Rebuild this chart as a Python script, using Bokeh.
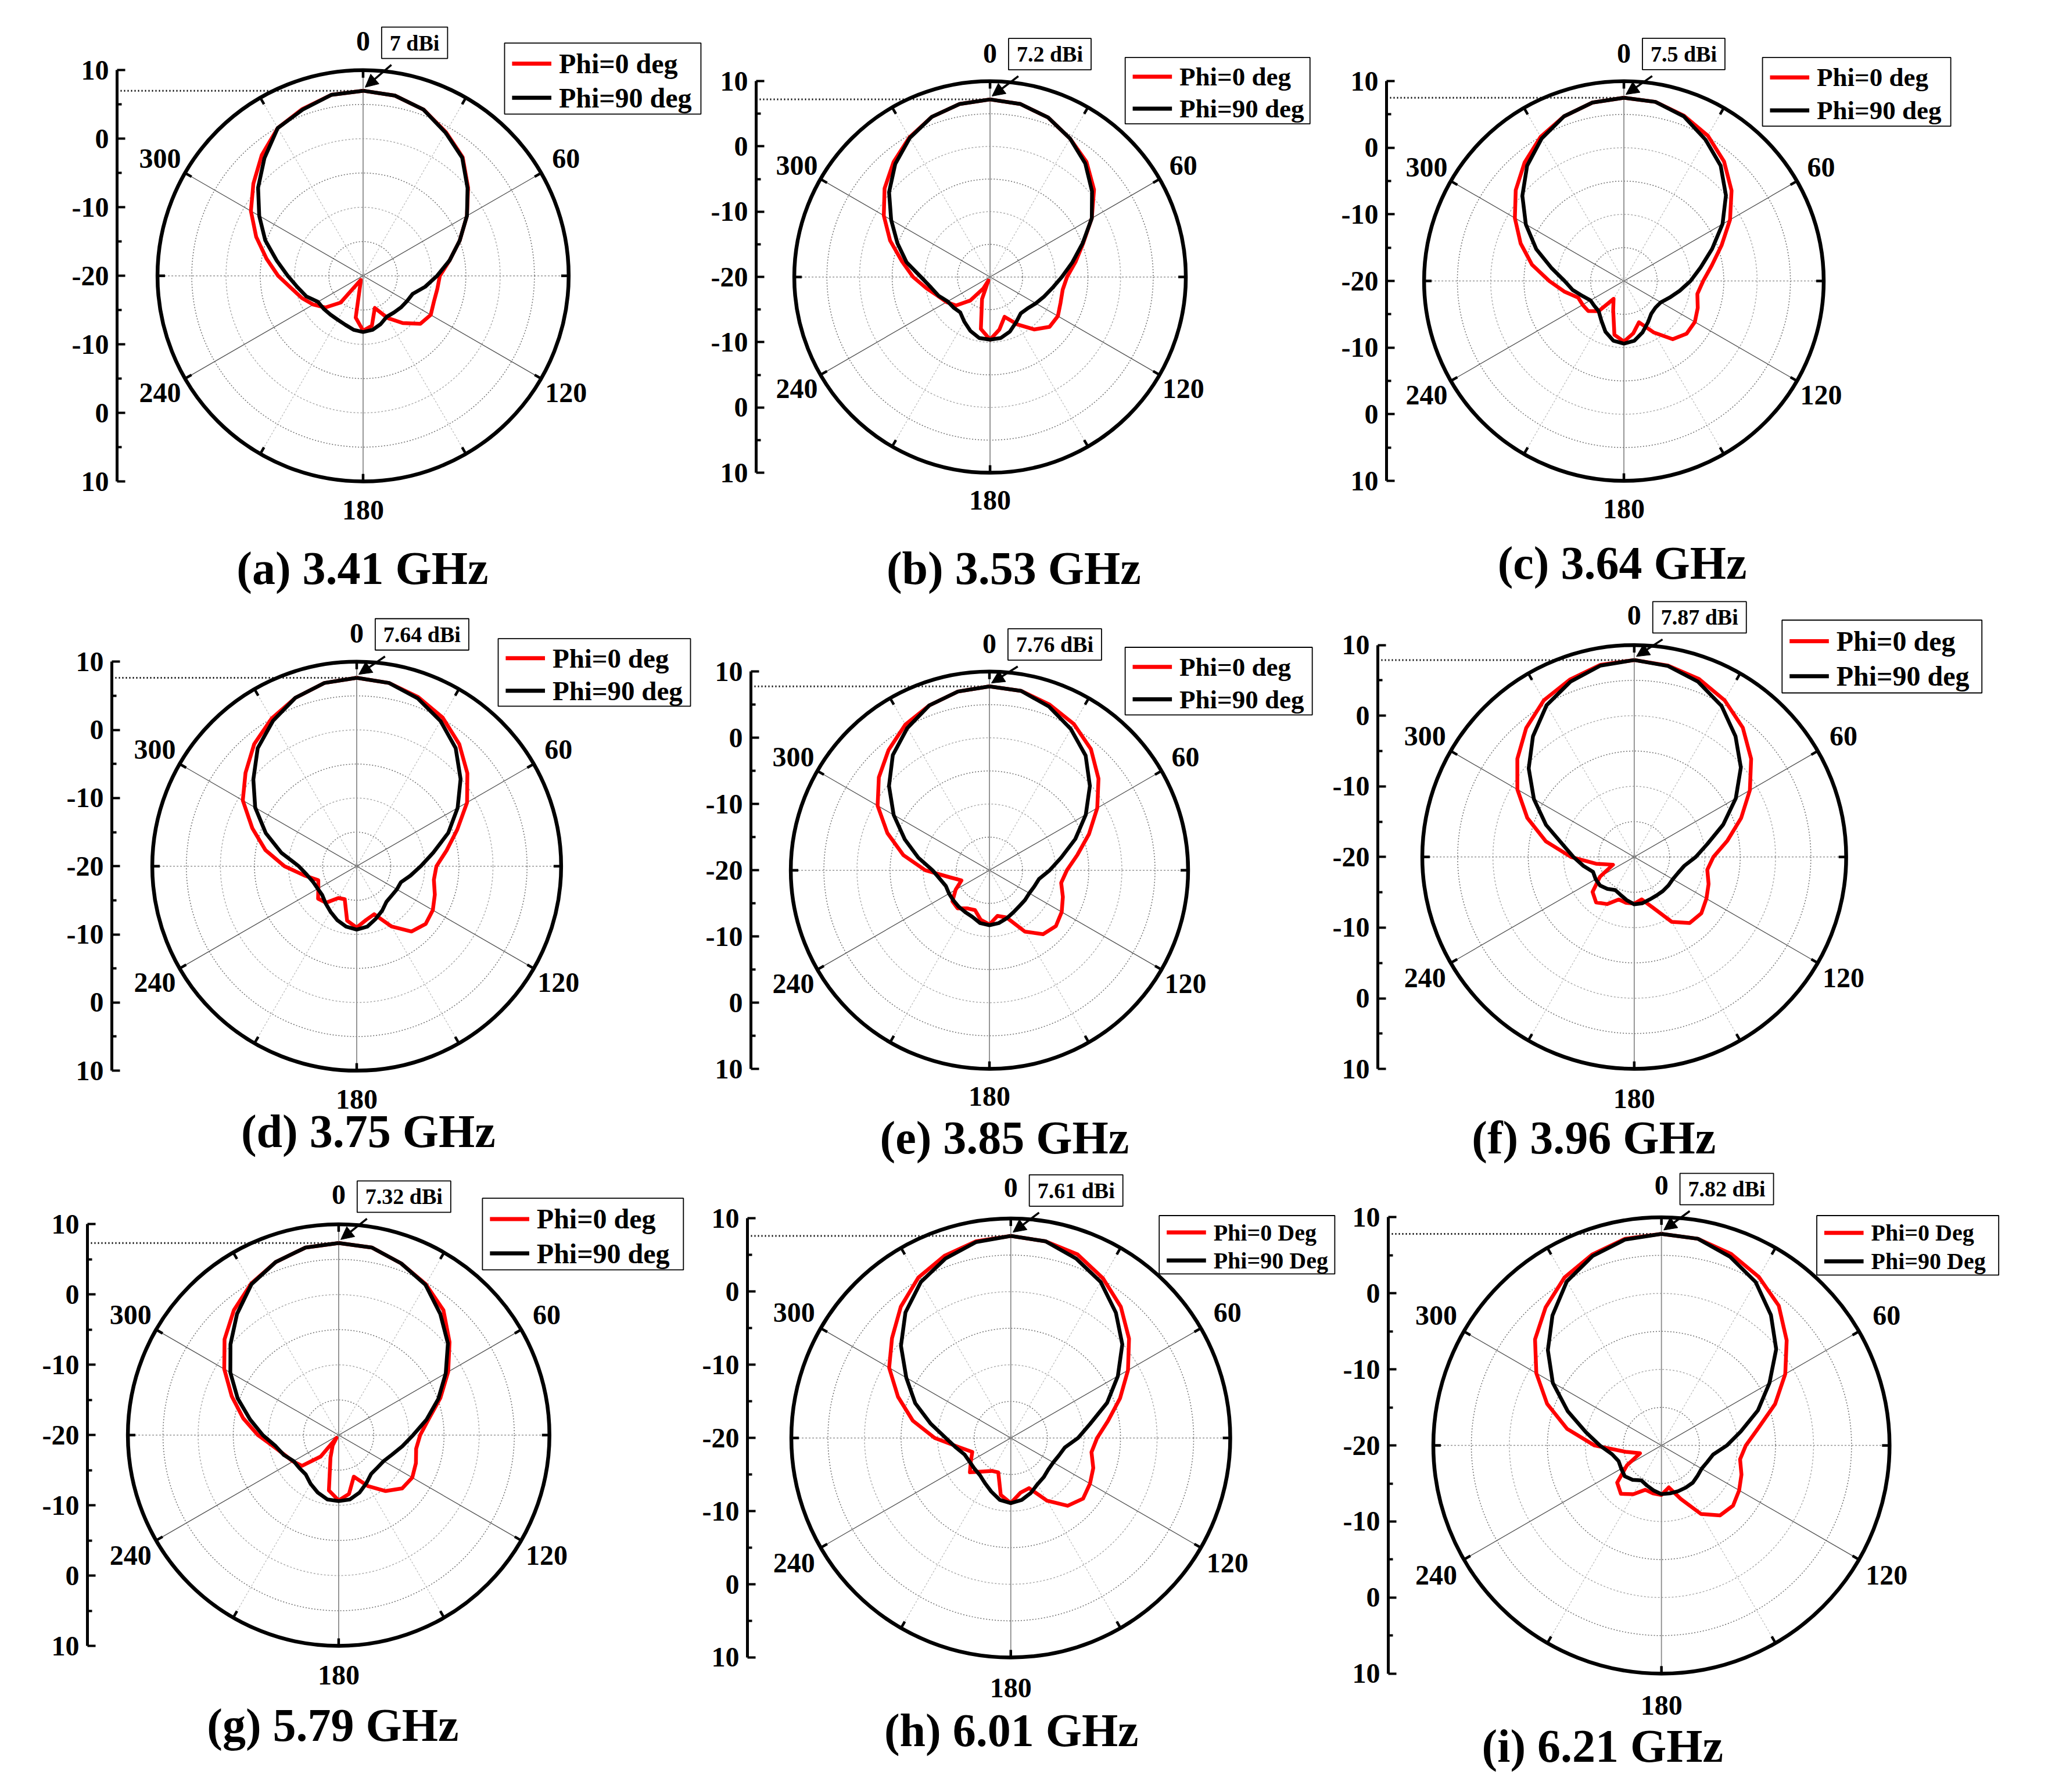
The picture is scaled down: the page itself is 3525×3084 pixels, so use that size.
import numpy as np
from bokeh.core.properties import value
from bokeh.embed import file_html
from bokeh.layouts import column, row
from bokeh.models import Arrow, FixedTicker, NormalHead
from bokeh.plotting import figure
from bokeh.resources import INLINE

# gain (dBi) every 10 degrees, 0..350
ANG = list(range(0, 360, 10))

A_BLACK = [7.0, 6.7, 5.8, 4.1, 2.5, -0.1, -2.5, -5.0, -7.2, -9.2, -10.8, -12.3,
           -12.6, -12.8, -13.0, -13.1, -12.5, -12.0, -11.8, -12.0, -12.4, -12.6, -12.6, -12.5,
           -12.4, -11.2, -10.3, -9.0, -7.2, -4.8, -2.5, 0.0, 2.4, 4.9, 5.8, 6.8]
A_RED = [7.0, 6.7, 5.8, 4.2, 2.6, 0.0, -2.5, -5.0, -7.2, -8.8, -9.0, -9.0,
         -8.6, -9.1, -11.0, -12.9, -15.0, -12.6, -12.0, -13.8, -18.9, -19.3, -14.9, -12.8,
         -11.6, -10.5, -9.4, -7.6, -5.7, -3.4, -1.1, 0.9, 3.0, 4.9, 5.9, 6.8]
B_BLACK = [7.2, 6.9, 6.0, 4.5, 2.7, 0.4, -2.0, -4.9, -7.2, -9.0, -10.3, -11.2,
           -11.9, -12.5, -12.7, -12.0, -11.1, -10.5, -10.4, -10.5, -11.2, -12.1, -12.9, -12.7,
           -12.5, -11.6, -10.8, -9.4, -7.0, -4.9, -2.5, 0.2, 2.6, 4.6, 6.1, 6.9]
B_RED = [7.2, 6.9, 6.0, 4.5, 3.0, 0.8, -2.0, -4.8, -6.7, -8.2, -8.7, -8.5,
         -8.0, -8.1, -9.5, -11.6, -13.5, -11.8, -10.4, -11.9, -16.4, -18.0, -15.3, -13.2,
         -12.3, -11.5, -10.1, -8.2, -6.3, -3.7, -1.2, 1.1, 3.0, 4.7, 6.1, 6.9]
C_BLACK = [7.5, 7.3, 6.3, 4.5, 2.6, 0.0, -2.9, -5.9, -8.3, -10.0, -11.5, -12.7,
           -13.6, -13.8, -13.6, -12.8, -11.8, -10.9, -10.6, -10.9, -11.9, -13.2, -14.1, -14.2,
           -14.2, -13.4, -12.2, -11.1, -9.0, -6.0, -3.0, -0.1, 2.6, 4.7, 6.3, 7.2]
C_RED = [7.5, 7.3, 6.4, 5.2, 3.4, 1.1, -1.6, -4.4, -6.6, -8.1, -8.8, -8.2,
         -7.7, -7.7, -8.6, -11.1, -13.4, -12.0, -10.9, -11.8, -15.3, -16.9, -14.1, -13.0,
         -12.85, -12.7, -10.9, -8.8, -6.0, -3.5, -1.1, 1.2, 3.2, 5.0, 6.3, 7.2]
D_BLACK = [7.64, 7.3, 6.2, 4.6, 2.6, -0.1, -2.9, -5.7, -8.6, -10.6, -12.0, -13.1,
           -13.2, -13.3, -13.2, -12.5, -11.8, -11.0, -10.7, -11.0, -11.6, -12.3, -12.9, -13.4,
           -13.4, -13.2, -12.6, -11.5, -8.8, -5.8, -2.8, -0.2, 2.6, 4.6, 6.3, 7.3]
D_RED = [7.64, 7.3, 6.4, 5.2, 3.4, 1.2, -1.3, -4.3, -6.6, -8.3, -8.5, -7.8,
         -7.1, -6.8, -7.5, -9.8, -12.5, -12.0, -11.0, -11.9, -14.85, -14.6, -13.0, -12.6,
         -13.5, -14.0, -12.2, -9.4, -6.4, -3.7, -0.7, 1.3, 3.4, 5.0, 6.3, 7.3]
E_BLACK = [7.76, 7.5, 6.3, 4.6, 2.6, -0.2, -3.2, -6.2, -9.0, -10.9, -12.4, -12.8,
           -13.05, -13.0, -12.95, -12.7, -12.3, -11.9, -11.7, -11.9, -12.5, -12.7, -12.8, -12.9,
           -12.95, -13.0, -12.4, -11.4, -9.1, -6.4, -3.3, -0.2, 2.7, 4.8, 6.5, 7.4]
E_RED = [7.76, 7.5, 6.6, 5.5, 3.85, 1.5, -1.2, -4.0, -6.5, -8.3, -9.0, -8.2,
         -7.4, -6.9, -7.4, -9.3, -12.4, -13.0, -11.8, -12.4, -13.6, -13.35, -12.5, -12.7,
         -14.1, -15.5, -13.9, -10.3, -6.8, -3.6, -0.5, 1.8, 3.7, 5.4, 6.5, 7.4]
F_BLACK = [7.87, 7.45, 6.4, 4.7, 2.3, -0.3, -3.4, -6.6, -9.5, -11.3, -12.8, -13.4,
           -13.7, -13.7, -13.7, -13.7, -13.6, -13.35, -13.3, -13.8, -14.3, -14.6, -14.1, -13.7,
           -13.7, -13.8, -12.7, -11.4, -9.7, -6.7, -3.6, -0.5, 2.3, 4.8, 6.4, 7.5]
F_RED = [7.87, 7.5, 6.8, 5.6, 3.9, 1.6, -1.1, -3.9, -6.6, -8.8, -9.5, -8.8,
         -8.2, -7.6, -7.8, -9.4, -12.4, -13.9, -13.4, -13.4, -13.6, -12.3, -11.6, -12.3,
         -14.4, -16.8, -14.5, -11.05, -7.3, -3.9, -0.9, 1.6, 3.8, 5.6, 6.7, 7.6]
G_BLACK = [7.32, 7.1, 6.0, 4.7, 2.5, 0.3, -2.4, -4.9, -7.3, -9.4, -10.8, -11.9,
           -12.6, -12.8, -12.8, -12.1, -11.3, -10.7, -10.6, -10.7, -11.3, -12.0, -12.7, -12.7,
           -12.6, -11.7, -10.9, -9.2, -7.2, -4.7, -2.2, 0.1, 2.5, 4.8, 6.2, 7.1]
G_RED = [7.32, 7.1, 6.0, 4.8, 3.2, 0.6, -2.0, -4.6, -7.0, -8.4, -8.8, -8.3,
         -7.9, -8.2, -9.6, -11.6, -13.7, -11.5, -10.7, -12.0, -16.6, -18.3, -16.0, -13.2,
         -12.5, -11.8, -10.6, -8.5, -6.2, -3.8, -1.2, 1.2, 3.2, 4.9, 6.2, 7.1]
H_BLACK = [7.61, 7.3, 6.1, 4.6, 2.35, -0.1, -3.1, -6.0, -9.0, -10.8, -12.5, -13.0,
           -13.3, -13.3, -13.0, -12.7, -12.0, -11.4, -11.1, -11.4, -12.2, -12.9, -13.4, -13.5,
           -13.5, -13.3, -12.4, -11.1, -8.9, -6.1, -3.5, -0.4, 2.4, 4.6, 6.1, 7.2]
H_RED = [7.61, 7.3, 6.7, 5.2, 3.4, 1.1, -1.5, -4.1, -6.5, -8.2, -8.8, -8.0,
         -7.5, -7.1, -7.9, -10.1, -12.7, -12.4, -11.1, -12.1, -15.0, -14.8, -14.0, -12.7,
         -13.7, -14.4, -12.8, -9.6, -6.4, -3.6, -0.8, 1.2, 3.4, 5.3, 6.5, 7.3]
I_BLACK = [7.82, 7.6, 6.4, 4.8, 2.4, -0.3, -3.6, -6.5, -9.4, -11.4, -13.1, -13.6,
           -13.9, -13.8, -13.6, -13.6, -13.6, -13.6, -13.6, -14.0, -14.4, -14.7, -14.1, -13.7,
           -13.9, -14.0, -13.4, -11.9, -9.9, -6.9, -3.5, -0.5, 2.3, 4.9, 6.5, 7.5]
I_RED = [7.82, 7.6, 6.8, 5.6, 4.0, 1.5, -1.2, -4.1, -7.1, -8.9, -9.5, -8.8,
         -8.2, -7.7, -8.0, -9.6, -12.5, -14.4, -13.5, -13.6, -13.8, -12.6, -11.7, -12.4,
         -14.75, -17.0, -15.2, -11.2, -7.4, -4.0, -1.0, 1.7, 3.7, 5.5, 6.7, 7.6]

# deep nulls that fall between the 10 degree samples (angle, dBi)
B_RED_NULL = [(205, -19.4)]
G_RED_NULL = [(218, -19.5)]

BLACK = [A_BLACK, B_BLACK, C_BLACK, D_BLACK, E_BLACK, F_BLACK, G_BLACK, H_BLACK, I_BLACK]
RED = [A_RED, B_RED, C_RED, D_RED, E_RED, F_RED, G_RED, H_RED, I_RED]
RED_NULLS = [[], B_RED_NULL, [], [], [], [], G_RED_NULL, [], []]

PEAK_DB = [7.0, 7.2, 7.5, 7.64, 7.76, 7.87, 7.32, 7.61, 7.82]
PEAK_TXT = ["7 dBi", "7.2 dBi", "7.5 dBi", "7.64 dBi", "7.76 dBi", "7.87 dBi",
            "7.32 dBi", "7.61 dBi", "7.82 dBi"]
CAPTIONS = ["(a)  3.41 GHz", "(b) 3.53 GHz", "(c) 3.64 GHz", "(d) 3.75 GHz", "(e) 3.85 GHz",
            "(f) 3.96 GHz", "(g) 5.79 GHz", "(h) 6.01 GHz", "(i) 6.21 GHz"]
LEG_RED = ["Phi=0 deg"] * 7 + ["Phi=0 Deg"] * 2
LEG_BLACK = ["Phi=90 deg"] * 7 + ["Phi=90 Deg"] * 2

ANGLE_TICKS = [0, 60, 120, 180, 240, 300]
RADIAL_TICKS = [-30, -20, -10, 0, 10, 20, 30]
RADIAL_LABELS = {-30: "10", -20: "0", -10: "-10", 0: "-20", 10: "-10", 20: "0", 30: "10"}

# layout, in pixels of the original picture
K = 0.994
ROW_Y = [0, 1035, 2022, 3084]
COL_X = [[0, 1220, 2295, 3525], [0, 1210, 2290, 3525], [0, 1195, 2320, 3525]]
AXIS_X = [202, 1309, 2400, 193, 1300, 2385, 151, 1294, 2403]
CX = [628, 1714, 2811, 617, 1713, 2829, 586, 1750, 2876]
CY = [477, 479, 486, 1499, 1506, 1483, 2484, 2489, 2502]
RADIUS = [356, 339, 346, 354, 344, 367, 365, 380, 395]
LEG_BOX = [(245, 403, 340, 123), (234, 380, 320, 115), (240, 387, 326, 119),
           (245, 394, 333, 117), (235, 386, 324, 117), (256, 410, 346, 126),
           (249, 410, 348, 124), (257, 385, 304, 101), (269, 398, 315, 103)]
LEG_FONT = [48, 45, 45, 47, 45, 48, 48, 40, 40]
CAP_POS = [(9, 506), (41, 504), (-3, 488), (20, 459), (26, 463), (-70, 486),
           (-10, 502), (1, 506), (-102, 520)]

SERIF = "Liberation Serif"


def px(n):
    return f"{round(n * K)}px"


def polar(ang, db, close=True):
    r = np.clip(np.asarray(db, float) + 20.0, 0, None)
    t = np.radians(np.asarray(ang, float))
    x, y = r * np.sin(t), r * np.cos(t)
    if close:
        x, y = np.append(x, x[0]), np.append(y, y[0])
    return x, y


def panel(i):
    rr, cc = divmod(i, 3)
    x0, x1 = COL_X[rr][cc], COL_X[rr][cc + 1]
    y0, y1 = ROW_Y[rr], ROW_Y[rr + 1]
    s = RADIUS[i] / 30.0          # picture px per dB
    ps = K * s
    w, h = round(K * (x1 - x0)), round(K * (y1 - y0))
    bl = round(K * (AXIS_X[i] - x0))
    xs = (AXIS_X[i] - CX[i]) / s
    ye = (CY[i] - y0) / s

    p = figure(width=w, height=h, x_range=(xs, xs + (w - bl) / ps), y_range=(ye - h / ps, ye),
               output_backend="svg", toolbar_location=None, x_axis_location=None, title=None,
               min_border_left=bl, min_border_right=0, min_border_top=0, min_border_bottom=0)
    p.outline_line_color = None
    p.grid.visible = False

    ax = p.yaxis[0]
    ax.ticker = FixedTicker(ticks=RADIAL_TICKS, minor_ticks=[-25, -15, -5, 5, 15, 25])
    ax.major_label_overrides = RADIAL_LABELS
    ax.bounds = (-30, 30)
    ax.axis_line_width = 5
    ax.major_tick_in, ax.major_tick_out = 14, 0
    ax.minor_tick_in, ax.minor_tick_out = 8, 0
    ax.major_tick_line_width = 4
    ax.minor_tick_line_width = 4
    ax.major_label_standoff = 14
    ax.major_label_text_font = SERIF
    ax.major_label_text_font_style = "bold"
    ax.major_label_text_font_size = px(48)
    ax.major_label_text_color = "black"

    # polar grid
    p.circle([0, 0, 0], [0, 0, 0], radius=[5, 15, 25], fill_color=None,
             line_color="#6e6e6e", line_width=1.5, line_dash="2 3")
    p.circle([0, 0], [0, 0], radius=[10, 20], fill_color=None,
             line_color="#adadad", line_width=1.5, line_dash="3 3")
    t = np.radians([30, 150])
    p.segment(30 * np.sin(t), 30 * np.cos(t), -30 * np.sin(t), -30 * np.cos(t),
              line_color="#bdbdbd", line_width=1.3, line_dash="3 3")
    t = np.radians([60, 120])
    p.segment(30 * np.sin(t), 30 * np.cos(t), -30 * np.sin(t), -30 * np.cos(t),
              line_color="#505050", line_width=1.3)
    p.segment([-30], [0], [30], [0], line_color="#959595", line_width=1.5, line_dash="3 3")
    p.segment([0], [-30], [0], [30], line_color="#8a8a8a", line_width=1.8)

    # gain curves
    ra = ANG + [a for a, _ in RED_NULLS[i]]
    rd = RED[i] + [d for _, d in RED_NULLS[i]]
    order = np.argsort(ra)
    rx, ry = polar(np.asarray(ra)[order], np.asarray(rd)[order])
    bx, by = polar(ANG, BLACK[i])
    p.line(rx, ry, line_color="#ff0000", line_width=6.5, line_join="round")
    p.line(bx, by, line_color="black", line_width=6.5, line_join="round")

    # outer ring with angle ticks
    p.circle([0], [0], radius=30, fill_color=None, line_color="black", line_width=6.5)
    t = np.radians(np.arange(0, 360, 30))
    tl = 30 - 13 / s
    p.segment(30 * np.sin(t), 30 * np.cos(t), tl * np.sin(t), tl * np.cos(t),
              line_color="black", line_width=4.5)
    lx, ly = polar(ANGLE_TICKS, np.full(len(ANGLE_TICKS), 34.2 - 20), close=False)
    p.text(lx, ly, text=[str(a) for a in ANGLE_TICKS], text_font=value(SERIF),
           text_font_style="bold", text_font_size=px(48), text_align="center",
           text_baseline="middle", text_color="black")

    # peak marker
    pk = PEAK_DB[i] + 20
    p.line([xs, 0], [pk, pk], line_color="black", line_width=3, line_dash="2 4")
    bx0, by0 = 18 / s, 31.2
    p.text([bx0], [by0], text=[PEAK_TXT[i]], text_font=value(SERIF), text_font_style="bold",
           text_font_size=px(38), text_align="left", text_baseline="bottom",
           x_offset=14, y_offset=-6, padding=dict(left=14, right=14, top=6, bottom=6),
           border_line_color="black", border_line_width=1.8,
           background_fill_color="white", text_color="black")
    p.add_layout(Arrow(end=NormalHead(size=round(22 * K), fill_color="black", line_color="black"),
                       x_start=bx0 + 31 / s, y_start=by0 - 5 / s, x_end=0.3, y_end=pk + 0.5,
                       line_width=3.5, line_color="black"))

    # legend box
    ldx, ltop, lw, lh = LEG_BOX[i]
    p.quad(left=[ldx / s], right=[(ldx + lw) / s], top=[ltop / s], bottom=[(ltop - lh) / s],
           fill_color="white", line_color="black", line_width=1.8)
    for frac, col, txt in ((0.29, "#ff0000", LEG_RED[i]), (0.77, "black", LEG_BLACK[i])):
        yy = (ltop - frac * lh) / s
        p.line([(ldx + 13) / s, (ldx + 81) / s], [yy, yy], line_color=col, line_width=7)
        p.text([(ldx + 94) / s], [yy], text=[txt], text_font=value(SERIF), text_font_style="bold",
               text_font_size=px(LEG_FONT[i]), text_align="left", text_baseline="middle",
               text_color="black")

    # caption under the panel
    cdx, cdy = CAP_POS[i]
    p.text([cdx / s], [-cdy / s], text=[CAPTIONS[i]], text_font=value(SERIF),
           text_font_style="bold", text_font_size=px(80), text_align="center",
           text_baseline="middle", text_color="black")
    return p


figs = [panel(i) for i in range(9)]
layout = column(row(*figs[0:3]), row(*figs[3:6]), row(*figs[6:9]))

open("out.html", "w").write(file_html(layout, INLINE))
